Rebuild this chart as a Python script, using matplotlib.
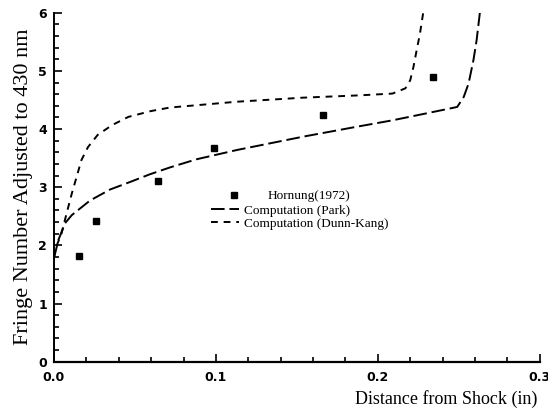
import numpy as np
import matplotlib.pyplot as plt
from matplotlib.ticker import MultipleLocator

# Hornung (1972) measurements
hornung_x = [0.0154, 0.026, 0.064, 0.099, 0.166, 0.234]
hornung_y = [1.82, 2.42, 3.10, 3.67, 4.25, 4.89]

# Computation (Park)
park_x = [0.0, 0.0027, 0.0068, 0.011, 0.0222, 0.0346, 0.047, 0.059, 0.0716,
          0.088, 0.113, 0.154, 0.189, 0.209, 0.230, 0.249, 0.253, 0.256,
          0.259, 0.261, 0.263]
park_y = [1.78, 2.09, 2.38, 2.52, 2.77, 2.96, 3.09, 3.22, 3.34,
          3.48, 3.64, 3.87, 4.05, 4.15, 4.27, 4.38, 4.55, 4.78,
          5.18, 5.53, 6.0]

# Computation (Dunn-Kang)
dk_x = [0.0, 0.0006, 0.0047, 0.0078, 0.011, 0.014, 0.017, 0.021, 0.027,
        0.036, 0.046, 0.060, 0.0716, 0.113, 0.154, 0.189, 0.209, 0.217,
        0.220, 0.222, 0.224, 0.226, 0.228]
dk_y = [1.78, 1.92, 2.21, 2.55, 2.89, 3.18, 3.47, 3.69, 3.90,
        4.07, 4.21, 4.31, 4.37, 4.47, 4.54, 4.58, 4.61, 4.70,
        4.84, 5.07, 5.36, 5.64, 6.0]

serif = 'Liberation Serif'

fig = plt.figure(figsize=(5.48, 4.11), dpi=100)
ax = fig.add_axes([0.0985, 0.12, 0.8865, 0.849])

pts, = ax.plot(hornung_x, hornung_y, 's', color='black', markersize=4,
               label='Hornung(1972)')
park, = ax.plot(park_x, park_y, color='black', lw=1.4, dashes=(7, 2.5),
                label='Computation (Park)')
dk, = ax.plot(dk_x, dk_y, color='black', lw=1.4, dashes=(3.5, 3),
              label='Computation (Dunn-Kang)')

ax.set_xlim(0, 0.3)
ax.set_ylim(0, 6)
ax.spines['top'].set_visible(False)
ax.spines['right'].set_visible(False)
ax.spines['left'].set_linewidth(1.4)
ax.spines['bottom'].set_linewidth(1.6)

ax.xaxis.set_major_locator(MultipleLocator(0.1))
ax.xaxis.set_minor_locator(MultipleLocator(0.02))
ax.yaxis.set_major_locator(MultipleLocator(1))
ax.yaxis.set_minor_locator(MultipleLocator(0.2))
ax.tick_params(which='both', direction='in', width=1.2)
ax.tick_params(which='major', length=6, labelsize=9)
ax.tick_params(axis='x', which='major', pad=7)
ax.tick_params(axis='y', which='major', pad=5)
ax.tick_params(which='minor', length=3.5)
ax.set_xticks([0, 0.1, 0.2, 0.3])
ax.set_xticklabels(['0.0', '0.1', '0.2', '0.3'], fontweight='bold')
for lab in ax.get_yticklabels():
    lab.set_fontweight('bold')

ax.set_ylabel('Fringe Number Adjusted to 430 nm', family=serif, fontsize=16,
              labelpad=4)
ax.set_xlabel('Distance from Shock (in)', family=serif, fontsize=13)
ax.xaxis.set_label_coords(0.995, -0.08)
ax.xaxis.label.set_ha('right')

# legend in two parts: the measured points sit indented above the two lines
leg_font = {'family': serif, 'size': 9.5}
leg1 = ax.legend(handles=[pts], loc='center left',
                 bbox_to_anchor=(0.362, 0.474), frameon=False, prop=leg_font,
                 handlelength=0.6, handletextpad=2.3, borderpad=0,
                 borderaxespad=0)
ax.add_artist(leg1)
ax.legend(handles=[park, dk], loc='center left',
          bbox_to_anchor=(0.323, 0.414), frameon=False, prop=leg_font,
          handlelength=2.1, handletextpad=0.4, labelspacing=0.08,
          borderpad=0, borderaxespad=0)

fig.savefig('out.png', dpi=100)
